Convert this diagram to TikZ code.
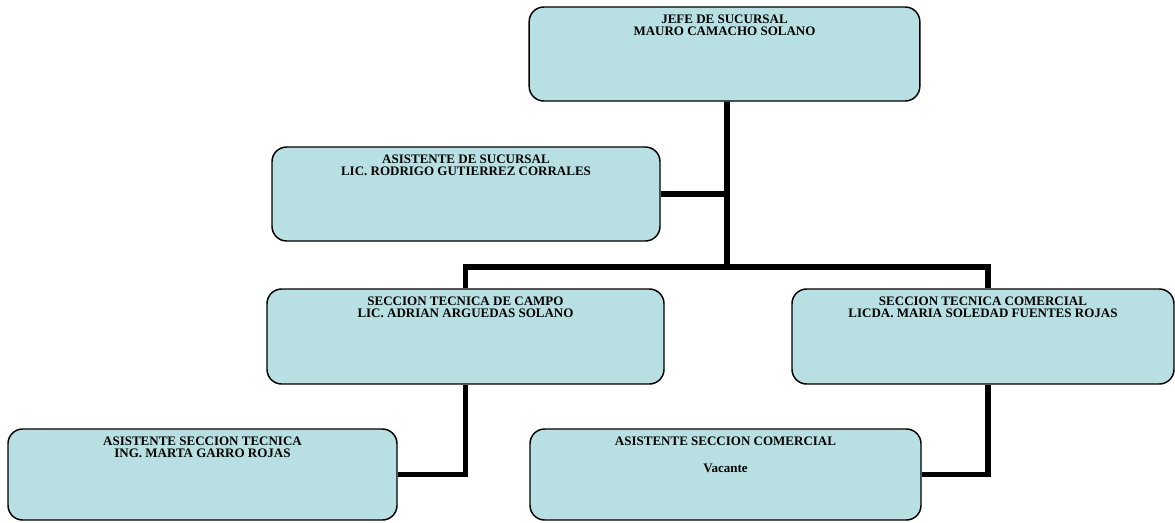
\documentclass[tikz,border=0pt]{standalone}
\usepackage{fontspec}
\setmainfont{Liberation Serif}
\definecolor{boxblue}{HTML}{B8DFE2}
\tikzset{
    unitbox/.style={draw=black, line width=1.1pt, fill=boxblue, rounded corners=11pt,
        align=center, inner xsep=4pt, inner ysep=5.5pt, text height=16pt,
        font=\bfseries\fontsize{9.75}{9}\selectfont},
    link/.style={line width=4.2pt}
}
\begin{document}
\begin{tikzpicture}[x=0.75pt, y=-0.75pt]
    \useasboundingbox (0,0) rectangle (1175,522);

    % Jefatura
    \node[unitbox, minimum width=293pt, text depth=43.5pt] (jefe) at (724.5,54)
        {JEFE DE SUCURSAL\\MAURO CAMACHO SOLANO};
    \node[unitbox, minimum width=291pt, text depth=43.5pt] (asis) at (466,194)
        {ASISTENTE DE SUCURSAL\\LIC. RODRIGO GUTIERREZ CORRALES};

    % Secciones
    \node[unitbox, minimum width=297.75pt, text depth=44.25pt] (campo) at (465.5,336.5)
        {SECCION TECNICA DE CAMPO\\LIC. ADRIAN ARGUEDAS SOLANO};
    \node[unitbox, minimum width=286.5pt, text depth=44.25pt] (comer) at (983,336.5)
        {SECCION TECNICA COMERCIAL\\LICDA. MARIA SOLEDAD FUENTES ROJAS};

    % Asistentes de seccion
    \node[unitbox, minimum width=291.75pt, text depth=41.25pt] (asitec) at (202.5,474.5)
        {ASISTENTE SECCION TECNICA\\ING. MARTA GARRO ROJAS};
    \node[unitbox, minimum width=293.25pt, text height=27pt, text depth=30.25pt] (asicom) at (725.5,474.5)
        {ASISTENTE SECCION COMERCIAL\\[11pt]Vacante};

    % Lineas
    \coordinate (hub) at (727,267);
    \draw[link] ([xshift=1.9pt]jefe.south) -- (hub);
    \draw[link] (asis.east) -- (asis.east -| hub);
    \draw[link] (campo.north) |- (hub) -| ([xshift=3.75pt]comer.north);
    \draw[link] (campo.south) |- (asitec.east);
    \draw[link] ([xshift=3.75pt]comer.south) |- (asicom.east);
\end{tikzpicture}
\end{document}
